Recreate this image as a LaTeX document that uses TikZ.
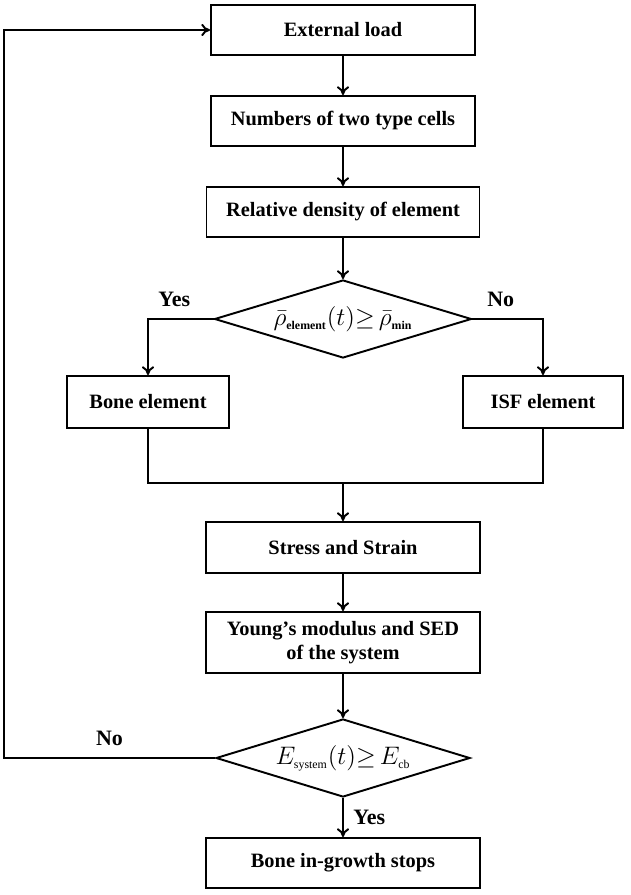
\documentclass[tikz,border=0pt]{standalone}
\usepackage{fontspec}
\setmainfont{Liberation Serif}
\usetikzlibrary{shapes.geometric,arrows.meta}
\begin{document}
\begin{tikzpicture}[scale=1,
    font=\fontsize{12.5}{14.5}\selectfont,
    box/.style={draw,line width=1.1pt,minimum height=1cm,font=\fontsize{11.6}{13.6}\selectfont\bfseries,align=center},
    test/.style={draw,diamond,line width=1.1pt,aspect=3.3,inner sep=0pt,minimum width=5.14cm,minimum height=1.56cm,font=\fontsize{13.5}{15}\selectfont},
    link/.style={line width=1.1pt,-{To[length=5pt,width=7pt]}}]
  \useasboundingbox (0,0) rectangle (12.62,-17.9);
  \node[box,minimum width=5.28cm] (load) at (6.86,-0.6) {External load};
  \node[box,minimum width=5.28cm] (cells) at (6.86,-2.42) {Numbers of two type cells};
  \node[box,minimum width=5.46cm] (dens) at (6.86,-4.24) {Relative density of element};
  \node[test] (chk1) at (6.86,-6.38) {$\bar{\rho}_{\scriptscriptstyle\mathbf{element}}(t){\geq}\,\bar{\rho}_{\scriptscriptstyle\mathbf{min}}$};
  \node[box,minimum width=3.24cm,minimum height=1.04cm] (bone) at (2.96,-8.04) {Bone element};
  \node[box,minimum width=3.2cm,minimum height=1.04cm] (isf) at (10.86,-8.04) {ISF element};
  \coordinate (join) at (6.86,-9.66);
  \node[box,minimum width=5.48cm,minimum height=1.02cm] (stress) at (6.86,-10.95) {Stress and Strain};
  \node[box,minimum width=5.48cm,minimum height=1.22cm] (young) at (6.86,-12.85) {Young’s modulus and SED\\of the system};
  \node[test,minimum width=5.08cm] (chk2) at (6.86,-15.16) {$E_{\scriptscriptstyle\mathrm{system}}(t){\geq}\,E_{\scriptscriptstyle\mathrm{cb}}$};
  \node[box,minimum width=5.48cm] (stop) at (6.86,-17.26) {Bone in-growth stops};
  \coordinate (back) at (0.08,-15.16);
  \draw[link] (load) -- (cells);
  \draw[link] (cells) -- (dens);
  \draw[link] (dens) -- (chk1);
  \draw[link] (chk1.west) -| node[pos=0.3,above=3pt] {\textbf{Yes}} (bone.north);
  \draw[link] (chk1.east) -| node[pos=0.2,above=3pt] {\textbf{No}} (isf.north);
  \draw[line width=1.1pt] (bone.south) |- (join) -| (isf.south);
  \draw[link] (join) -- (stress);
  \draw[link] (stress) -- (young);
  \draw[link] (young) -- (chk2);
  \draw[link] (chk2) -- node[right=2pt] {\textbf{Yes}} (stop);
  \draw[link] (chk2.west) -- node[above=3pt] {\textbf{No}} (back) |- (load.west);
\end{tikzpicture}
\end{document}
